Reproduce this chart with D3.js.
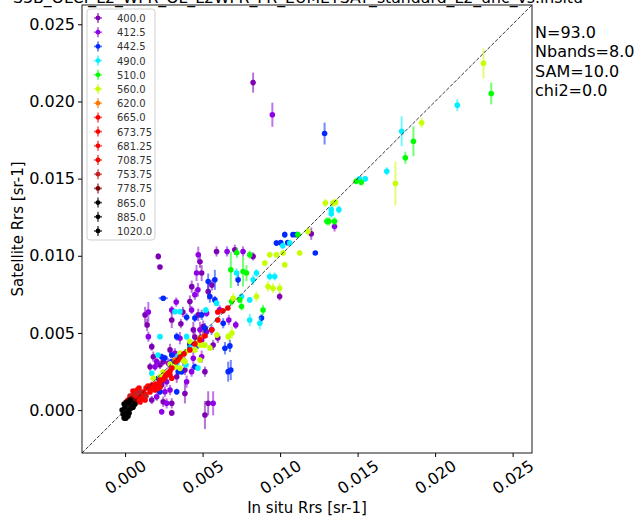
<!DOCTYPE html>
<html>
<head>
<meta charset="utf-8">
<script src="https://cdn.jsdelivr.net/npm/d3@7"></script>
<style>
  body { margin: 0; background: #fff; }
  text { font-family: "DejaVu Sans", sans-serif; }
</style>
</head>
<body>
<div id="scatter"></div>
<script>
// Band names shown in the legend
var bandNames = ["400.0", "412.5", "442.5", "490.0", "510.0", "560.0", "620.0", "665.0",
  "673.75", "681.25", "708.75", "753.75", "778.75", "865.0", "885.0", "1020.0"];

var bandColors = ["#7e00b4", "#8f00e6", "#0028ff", "#00f0ff", "#00ff00", "#c6ff00", "#ff7700", "#ff0000",
  "#ff0000", "#ff0000", "#ff0000", "#c82020", "#800000", "#000000", "#000000", "#000000"];

var tickValues = [0.000, 0.005, 0.010, 0.015, 0.020, 0.025];
var statLines = ["N=93.0", "Nbands=8.0", "SAM=10.0", "chi2=0.0"];

// Matchups per band: [in situ, satellite, satellite error]
var b400 = [[0.00826,0.02122,0.00065],[0.00214,0.00996,0.00020],[0.00225,0.00927,0.00013],[0.00483,0.00961,0.00040],
  [0.00590,0.01028,0.00033],[0.00708,0.01039,0.00033],[0.00826,0.00996,0.00026],[0.00494,0.00888,0.00052],
  [0.00418,0.00703,0.00040],[0.00129,0.00617,0.00052],[0.00142,0.00552,0.00040],[0.00373,0.00636,0.00033],
  [0.00472,0.00617,0.00040],[0.00536,0.00768,0.00052],[0.00301,0.00584,0.00052],[0.00172,0.00411,0.00026],
  [0.00440,0.00520,0.00052],[0.00504,0.00541,0.00040],[0.00450,0.00474,0.00052],[0.00568,0.00422,0.00033],
  [0.00290,0.00390,0.00040],[0.00182,0.00346,0.00033],[0.00246,0.00314,0.00026],[0.00161,0.00281,0.00026],
  [0.00225,0.00292,0.00026],[0.00375,0.00325,0.00040],[0.00386,0.00260,0.00033],[0.00333,0.00216,0.00040],
  [0.00225,0.00173,0.00033],[0.00236,0.00162,0.00026],[0.00246,0.00054,0.00033],[0.00301,0.00044,0.00033],
  [0.00172,0.00065,0.00026],[0.00301,-0.00018,0.00020],[0.00536,0.00044,0.00078],[0.00515,-0.00032,0.00091],
  [0.00997,0.00736,0.00026],[0.01201,0.01143,0.00040],[0.00598,0.00468,0.00033],[0.00214,0.00130,0.00033],
  [0.00386,0.00108,0.00065],[0.00515,0.00249,0.00033],[0.00430,0.00800,0.00040],[0.00560,0.00810,0.00035],
  [0.00360,0.00560,0.00030]];
var b412 = [[0.00950,0.01914,0.00078],[0.00472,0.01007,0.00052],[0.00658,0.01028,0.00033],[0.00761,0.01028,0.00033],
  [0.00461,0.00888,0.00052],[0.00450,0.00747,0.00033],[0.00150,0.00636,0.00065],[0.00301,0.00649,0.00026],
  [0.00429,0.00649,0.00026],[0.00526,0.00628,0.00026],[0.00150,0.00476,0.00033],[0.00354,0.00466,0.00040],
  [0.00483,0.00520,0.00052],[0.00494,0.00455,0.00040],[0.00526,0.00507,0.00040],[0.00322,0.00368,0.00033],
  [0.00204,0.00314,0.00026],[0.00279,0.00303,0.00033],[0.00193,0.00281,0.00026],[0.00440,0.00336,0.00040],
  [0.00429,0.00249,0.00033],[0.00268,0.00184,0.00033],[0.00172,0.00151,0.00033],[0.00290,0.00130,0.00033],
  [0.00268,0.00044,0.00033],[0.00204,0.00086,0.00026],[0.00236,-0.00011,0.00020],[0.00568,0.00044,0.00078],
  [0.01351,0.01190,0.00033],[0.00669,0.00584,0.00033],[0.00714,0.00552,0.00026],[0.00257,0.00119,0.00033],
  [0.00397,0.00184,0.00040],[0.00494,0.00346,0.00040],[0.00470,0.00780,0.00045],[0.00330,0.00700,0.00030],
  [0.00610,0.00650,0.00030]];
var b442 = [[0.01287,0.01792,0.00071],[0.00976,0.01083,0.00020],[0.01030,0.01137,0.00020],[0.01083,0.01137,0.00013],
  [0.01105,0.01137,0.00013],[0.01004,0.01085,0.00013],[0.01049,0.01085,0.00013],[0.01227,0.01018,0.00013],
  [0.00536,0.00833,0.00052],[0.00579,0.00844,0.00065],[0.00729,0.00844,0.00040],[0.00246,0.00725,0.00013,0.00030],
  [0.00547,0.00736,0.00040],[0.00494,0.00617,0.00033],[0.00397,0.00602,0.00026],[0.00450,0.00597,0.00026],
  [0.00515,0.00531,0.00033],[0.00558,0.00520,0.00033],[0.00633,0.00563,0.00033],[0.00644,0.00401,0.00040],
  [0.00676,0.00416,0.00040],[0.00333,0.00476,0.00026],[0.00236,0.00346,0.00020],[0.00257,0.00338,0.00020],
  [0.00301,0.00357,0.00020],[0.00665,0.00249,0.00065],[0.00682,0.00260,0.00065],[0.00333,0.00119,0.00020],
  [0.00880,0.00596,0.00026],[0.00579,0.00714,0.00026],[0.00418,0.00422,0.00026],[0.00470,0.00422,0.00026],
  [0.00214,0.00206,0.00020],[0.00246,0.00195,0.00020],[0.00225,0.00119,0.00020],[0.00343,0.00249,0.00020],
  [0.00365,0.00249,0.00020],[0.00450,0.00281,0.00020],[0.00418,0.00433,0.00020],[0.00301,0.00314,0.00020]];
var b490 = [[0.02143,0.01976,0.00039],[0.01784,0.01807,0.00097],[0.01688,0.01548,0.00026],[0.01512,0.01498,0.00020],
  [0.01549,0.01498,0.00020],[0.01330,0.01299,0.00033],[0.01379,0.01299,0.00026],[0.01330,0.01273,0.00026],
  [0.01062,0.01083,0.00020],[0.01017,0.01065,0.00020],[0.00719,0.00888,0.00033],[0.00826,0.00844,0.00033],
  [0.00847,0.00888,0.00026],[0.00933,0.00866,0.00026],[0.00965,0.00866,0.00026],[0.00751,0.00736,0.00020],
  [0.00804,0.00714,0.00020],[0.00804,0.00584,0.00040],[0.00869,0.00563,0.00040],[0.00590,0.00693,0.00020],
  [0.00322,0.00638,0.00013],[0.00354,0.00638,0.00013],[0.00225,0.00476,0.00013],[0.00397,0.00476,0.00020],
  [0.00521,0.00649,0.00020],[0.00418,0.00403,0.00020],[0.00341,0.00351,0.00020],[0.00212,0.00357,0.00013],
  [0.00470,0.00273,0.00020],[0.00393,0.00292,0.00020],[0.00264,0.00221,0.00020],[0.00365,0.00357,0.00020],
  [0.00333,0.00303,0.00020],[0.00172,0.00238,0.00020]];
var b510 = [[0.02362,0.02052,0.00071],[0.01860,0.01742,0.00097],[0.01808,0.01635,0.00039],[0.01491,0.01483,0.00020],
  [0.01523,0.01476,0.00020],[0.01302,0.01223,0.00026],[0.01315,0.01223,0.00026],[0.01351,0.01223,0.00026],
  [0.01115,0.01137,0.00020],[0.00682,0.00909,0.00117],[0.00761,0.00898,0.00097],[0.00783,0.00888,0.00052],
  [0.00890,0.00649,0.00033],[0.00687,0.00703,0.00026],[0.00751,0.00671,0.00026],[0.00721,0.01020,0.00033],
  [0.00740,0.00714,0.00020],[0.00804,0.01007,0.00026]];
var b560 = [[0.02312,0.02247,0.00097],[0.01913,0.01862,0.00033],[0.01744,0.01468,0.00143],[0.01292,0.01342,0.00026],
  [0.01340,0.01342,0.00026],[0.01358,0.01346,0.00026],[0.01180,0.01158,0.00026],[0.00933,0.01007,0.00020],
  [0.00976,0.01007,0.00020],[0.01019,0.01018,0.00020],[0.01126,0.01018,0.00020],[0.01030,0.00942,0.00020],
  [0.00901,0.00953,0.00020],[0.00922,0.00801,0.00033],[0.00954,0.00790,0.00033],[0.00997,0.00790,0.00033],
  [0.00847,0.00736,0.00033],[0.00697,0.00725,0.00033],[0.00665,0.00476,0.00026],[0.00592,0.00487,0.00020],
  [0.00515,0.00422,0.00020],[0.00547,0.00403,0.00020],[0.00450,0.00390,0.00020],[0.00483,0.00422,0.00020],
  [0.00418,0.00444,0.00020],[0.00393,0.00377,0.00020],[0.00354,0.00368,0.00020],[0.00373,0.00325,0.00020],
  [0.00290,0.00299,0.00020],[0.00322,0.00279,0.00020],[0.00245,0.00247,0.00020],[0.00689,0.00500,0.00040],
  [0.00461,0.00433,0.00020],[0.00494,0.00422,0.00020],[0.00483,0.00325,0.00020],[0.00386,0.00314,0.00020],
  [0.00354,0.00271,0.00020],[0.00225,0.00216,0.00020],[0.00182,0.00206,0.00020]];
var b620 = [[0.00322,0.00325,0.00013],[0.00483,0.00468,0.00013]];
var b665 = [[0.00663,0.00662,0.00008],[0.00631,0.00643,0.00008],[0.00598,0.00584,0.00008],[0.00560,0.00520,0.00008],
  [0.00483,0.00455,0.00008],[0.00418,0.00390,0.00008],[0.00354,0.00344,0.00008],[0.00328,0.00312,0.00008],
  [0.00290,0.00253,0.00008],[0.00264,0.00227,0.00008],[0.00238,0.00195,0.00008],[0.00212,0.00156,0.00008],
  [0.00174,0.00162,0.00008],[0.00148,0.00156,0.00008]];
var b674 = [[0.00598,0.00636,0.00008],[0.00515,0.00481,0.00008],[0.00450,0.00429,0.00008],[0.00380,0.00364,0.00008],
  [0.00341,0.00325,0.00008],[0.00302,0.00273,0.00008],[0.00277,0.00240,0.00008],[0.00251,0.00201,0.00008],
  [0.00225,0.00182,0.00008],[0.00199,0.00169,0.00008],[0.00161,0.00136,0.00008],[0.00135,0.00143,0.00008],
  [0.00301,0.00206,0.00008]];
var b681 = [[0.00290,0.00227,0.00008],[0.00257,0.00214,0.00008],[0.00225,0.00195,0.00008],[0.00214,0.00141,0.00008],
  [0.00187,0.00149,0.00008],[0.00225,0.00149,0.00008],[0.00193,0.00130,0.00008],[0.00161,0.00117,0.00008],
  [0.00116,0.00117,0.00008],[0.00090,0.00143,0.00008],[0.00077,0.00130,0.00008],[0.00129,0.00104,0.00008]];
var b709 = [[0.00006,0.00052,0.00008],[0.00019,0.00065,0.00008],[0.00032,0.00078,0.00008],[0.00045,0.00091,0.00008],
  [0.00058,0.00104,0.00008],[0.00071,0.00084,0.00008],[0.00084,0.00065,0.00008],[0.00097,0.00097,0.00008],
  [0.00109,0.00078,0.00008],[0.00129,0.00065,0.00008],[0.00097,0.00052,0.00008],[0.00051,0.00123,0.00008]];
var b754 = [[0.00032,0.00091,0.00008],[0.00071,0.00104,0.00008],[0.00097,0.00117,0.00008],[0.00135,0.00091,0.00008]];
var b779 = [[0.00013,0.00052,0.00008],[0.00039,0.00071,0.00008],[0.00058,0.00058,0.00008]];
var b865 = [[-0.00006,0.00039,0.00008],[0.00000,0.00019,0.00008],[0.00006,0.00000,0.00008],[0.00013,-0.00013,0.00008],
  [0.00032,0.00032,0.00008],[0.00045,0.00045,0.00008]];
var b885 = [[-0.00013,-0.00026,0.00008],[0.00000,-0.00039,0.00008],[0.00019,0.00006,0.00008],[0.00026,-0.00019,0.00008],
  [0.00039,0.00013,0.00008],[0.00032,0.00065,0.00008]];
var b1020 = [[-0.00006,-0.00052,0.00008],[0.00006,-0.00052,0.00008],[0.00013,0.00052,0.00008],[0.00051,0.00019,0.00008],
  [-0.00019,0.00000,0.00008],[0.00019,-0.00039,0.00008],[0.00064,0.00039,0.00008]];

var bandData = [b400, b412, b442, b490, b510, b560, b620, b665, b674, b681, b709, b754, b779, b865, b885, b1020];

//Define SVG area
var svgWidth = 636;
var svgHeight = 516;

//Define chart margins
var chartMargin = { top: 5, right: 104, bottom: 63, left: 82 };

var chartWidth = svgWidth - chartMargin.left - chartMargin.right;
var chartHeight = svgHeight - chartMargin.top - chartMargin.bottom;

var svg = d3.select("#scatter")
  .append("svg")
  .attr("width", svgWidth)
  .attr("height", svgHeight);

//Title, cut by the top edge
svg.append("text")
  .attr("x", 298)
  .attr("y", 3)
  .attr("text-anchor", "middle")
  .attr("font-size", 15)
  .attr("textLength", 570)
  .attr("lengthAdjust", "spacingAndGlyphs")
  .text("S3B_OLCI_L2_WFR_OL_L2WFR_FR_EUMETSAT_standard_L2_unc_vs.insitu");

var chartGroup = svg.append("g")
  .attr("transform", `translate(${chartMargin.left}, ${chartMargin.top})`);

//Scales, same limits on both axes
var lim = [-0.00278, 0.02625];
var xScale = d3.scaleLinear().domain(lim).range([0, chartWidth]);
var yScale = d3.scaleLinear().domain(lim).range([chartHeight, 0]);

chartGroup.append("clipPath").attr("id", "plotClip")
  .append("rect").attr("width", chartWidth).attr("height", chartHeight);

//Axes
var bottomAxis = d3.axisBottom(xScale).tickValues(tickValues).tickFormat(d3.format(".3f")).tickSize(4);
var leftAxis = d3.axisLeft(yScale).tickValues(tickValues).tickFormat(d3.format(".3f")).tickSize(4);

var xAxis = chartGroup.append("g")
  .attr("transform", `translate(0, ${chartHeight})`)
  .call(bottomAxis);
xAxis.select(".domain").remove();
xAxis.selectAll("text")
  .attr("font-size", 16)
  .attr("font-family", "DejaVu Sans")
  .attr("fill", "#000")
  .attr("text-anchor", "middle")
  .attr("dominant-baseline", "central")
  .attr("y", 24)
  .attr("dy", null)
  .attr("transform", "rotate(-35, 0, 24)");

var yAxis = chartGroup.append("g").call(leftAxis);
yAxis.select(".domain").remove();
yAxis.selectAll("text")
  .attr("font-size", 16)
  .attr("font-family", "DejaVu Sans")
  .attr("fill", "#000")
  .attr("x", -7);

//Points with error bars, band by band
var pointsGroup = chartGroup.append("g").attr("clip-path", "url(#plotClip)");

bandData.forEach(function(rows, i) {
  var g = pointsGroup.append("g");
  var color = bandColors[i];

  g.selectAll(".ey").data(rows).enter().append("line")
    .attr("x1", d => xScale(d[0])).attr("x2", d => xScale(d[0]))
    .attr("y1", d => yScale(d[1] - d[2])).attr("y2", d => yScale(d[1] + d[2]))
    .attr("stroke", color).attr("stroke-width", 2).attr("stroke-opacity", 0.55);

  g.selectAll(".ex").data(rows).enter().append("line")
    .attr("x1", d => xScale(d[0] - (d[3] || 0.0001))).attr("x2", d => xScale(d[0] + (d[3] || 0.0001)))
    .attr("y1", d => yScale(d[1])).attr("y2", d => yScale(d[1]))
    .attr("stroke", color).attr("stroke-width", 2).attr("stroke-opacity", 0.55);

  g.selectAll("circle").data(rows).enter().append("circle")
    .attr("cx", d => xScale(d[0]))
    .attr("cy", d => yScale(d[1]))
    .attr("r", 2.8)
    .attr("fill", color);
});

//1:1 line
chartGroup.append("line")
  .attr("x1", xScale(lim[0])).attr("y1", yScale(lim[0]))
  .attr("x2", xScale(lim[1])).attr("y2", yScale(lim[1]))
  .attr("stroke", "#222")
  .attr("stroke-width", 0.9)
  .attr("stroke-dasharray", "3.7,1.6");

//Frame
chartGroup.append("rect")
  .attr("width", chartWidth)
  .attr("height", chartHeight)
  .attr("fill", "none")
  .attr("stroke", "#000")
  .attr("stroke-width", 0.9);

//Legend
var legend = chartGroup.append("g").attr("transform", "translate(5, 4)");
legend.append("rect")
  .attr("width", 68)
  .attr("height", 231)
  .attr("rx", 3)
  .attr("fill", "#fff")
  .attr("fill-opacity", 0.8)
  .attr("stroke", "#d0d0d0");

bandNames.forEach(function(name, i) {
  var row = legend.append("g").attr("transform", `translate(11, ${9 + i * 14.2})`);
  row.append("line").attr("x1", 0).attr("x2", 0).attr("y1", -5).attr("y2", 5)
    .attr("stroke", bandColors[i]).attr("stroke-width", 1.8).attr("stroke-opacity", 0.6);
  row.append("line").attr("x1", -4).attr("x2", 4).attr("y1", 0).attr("y2", 0)
    .attr("stroke", bandColors[i]).attr("stroke-width", 1.8).attr("stroke-opacity", 0.6);
  row.append("circle").attr("r", 2.4).attr("fill", bandColors[i]);
  row.append("text")
    .attr("x", 19)
    .attr("y", 4)
    .attr("font-size", 10)
    .attr("fill", "#333")
    .text(name);
});

//Stats text on the right
svg.selectAll(".stat").data(statLines).enter().append("text")
  .attr("x", 535)
  .attr("y", (d, i) => 38 + i * 19.3)
  .attr("font-size", 16)
  .text(d => d);

//Axis labels
svg.append("text")
  .attr("x", chartMargin.left + chartWidth / 2)
  .attr("y", 513)
  .attr("text-anchor", "middle")
  .attr("font-size", 15)
  .text("In situ Rrs [sr-1]");

svg.append("text")
  .attr("transform", `translate(23, ${chartMargin.top + chartHeight / 2}) rotate(-90)`)
  .attr("text-anchor", "middle")
  .attr("font-size", 15)
  .text("Satellite Rrs [sr-1]");
</script>
</body>
</html>
